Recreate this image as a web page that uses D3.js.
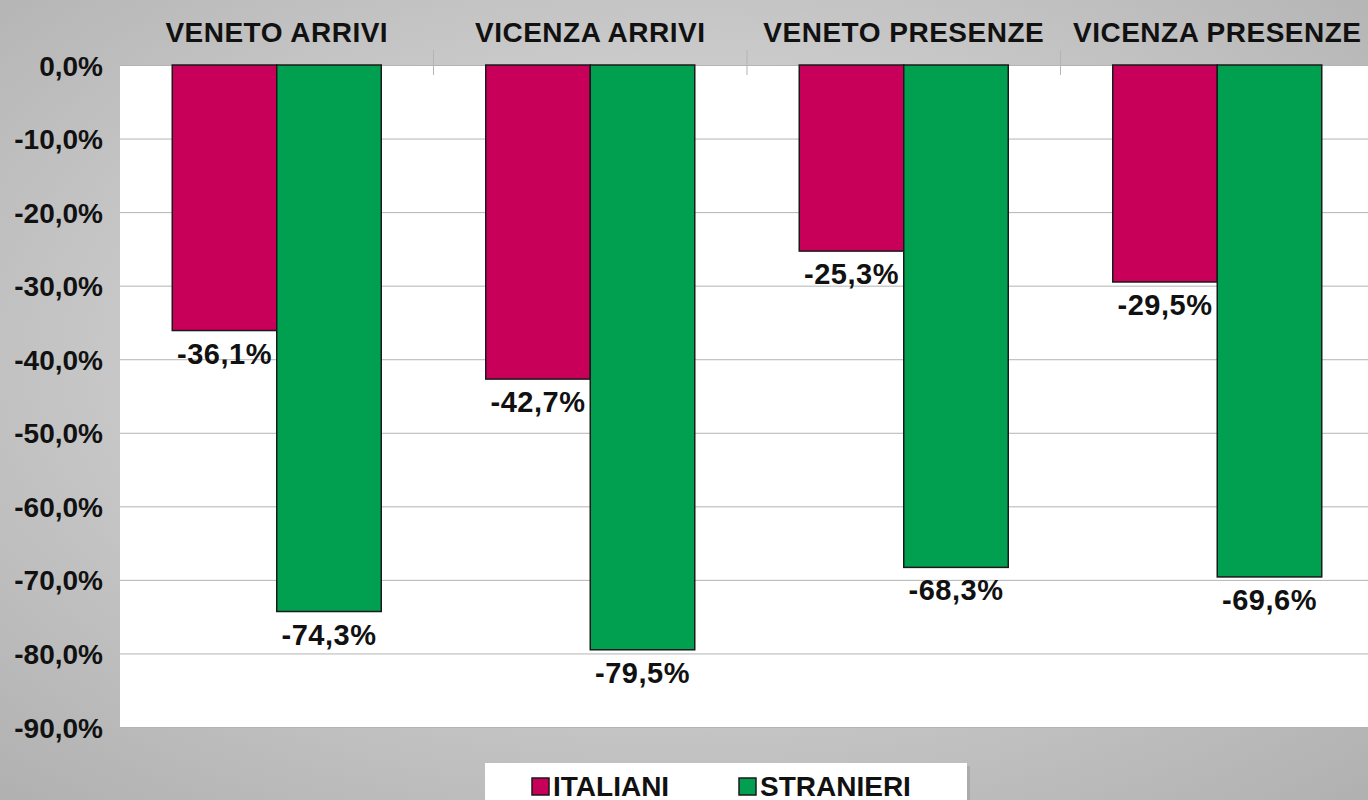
<!DOCTYPE html>
<html lang="it">
<head>
  <meta charset="UTF-8" />
  <title>Variazione arrivi e presenze</title>
  <script src="https://d3js.org/d3.v7.min.js"></script>
  <style>
    html, body { margin: 0; padding: 0; overflow: hidden; }
    body { font-family: "Liberation Sans", Arial, sans-serif; }
    .lbl { font-weight: bold; fill: #111; font-size: 28px; }
    .cat { letter-spacing: 0.5px; }
    .val { font-size: 29px; letter-spacing: 0.5px; }
  </style>
</head>
<body>
  <div id="chart"></div>
  <script>
    // data
    const categories = ["VENETO ARRIVI", "VICENZA ARRIVI", "VENETO PRESENZE", "VICENZA PRESENZE"];
    const series = ["ITALIANI", "STRANIERI"];
    const italiani = [-36.1, -42.7, -25.3, -29.5];
    const stranieri = [-74.3, -79.5, -68.3, -69.6];
    const yTicks = [0, -10, -20, -30, -40, -50, -60, -70, -80, -90];
    const colors = ["#c8005a", "#00a050"];

    const W = 1368, H = 800;
    const plot = { left: 120, top: 65, bottom: 727, band: 313.5 };

    const fmt = v => d3.format(".1f")(v).replace(".", ",").replace("−", "-") + "%";

    const svg = d3.select("#chart").append("svg")
      .attr("width", W).attr("height", H);

    const defs = svg.append("defs");
    const grad = defs.append("radialGradient")
      .attr("id", "bg").attr("cx", "50%").attr("cy", "45%").attr("r", "75%");
    grad.append("stop").attr("offset", "0%").attr("stop-color", "#e4e4e4");
    grad.append("stop").attr("offset", "100%").attr("stop-color", "#b0b0b0");

    svg.append("rect").attr("width", W).attr("height", H).attr("fill", "url(#bg)");

    const x0 = d3.scaleBand()
      .domain(categories)
      .range([plot.left, plot.left + plot.band * categories.length]);
    const x1 = d3.scaleBand()
      .domain(series)
      .range([plot.band / 6, plot.band * 5 / 6]);
    const y = d3.scaleLinear().domain([0, -90]).range([plot.top, plot.bottom]);

    // plot area
    svg.append("rect")
      .attr("x", plot.left).attr("y", plot.top)
      .attr("width", W - plot.left).attr("height", plot.bottom - plot.top)
      .attr("fill", "#fff");

    // y axis with gridlines
    const yAxis = svg.append("g")
      .attr("transform", `translate(${plot.left},0)`)
      .call(d3.axisLeft(y).tickValues(yTicks).tickSize(8).tickFormat(fmt));
    yAxis.select(".domain").remove();
    yAxis.selectAll(".tick line").attr("stroke", "#b4b4b4").attr("x2", W - plot.left);
    yAxis.selectAll(".tick text")
      .attr("class", "lbl").attr("x", -17).attr("dy", "0.36em");

    // category axis on top
    const xAxis = svg.append("g")
      .attr("transform", `translate(0,${plot.top})`)
      .call(d3.axisTop(x0).tickSize(0).tickPadding(23));
    xAxis.select(".domain").remove();
    xAxis.selectAll(".tick text").attr("class", "lbl cat");
    svg.append("g").selectAll("line")
      .data(categories.slice(1))
      .join("line")
      .attr("x1", d => x0(d)).attr("x2", d => x0(d))
      .attr("y1", plot.top - 15).attr("y2", plot.top + 10)
      .attr("stroke", "#b4b4b4");

    const rows = categories.map((c, i) => ({ cat: c, values: [italiani[i], stranieri[i]] }));

    const groups = svg.append("g").selectAll("g")
      .data(rows)
      .join("g")
      .attr("transform", d => `translate(${x0(d.cat)},0)`);

    groups.selectAll("rect")
      .data(d => d.values.map((v, j) => ({ s: series[j], v, j })))
      .join("rect")
      .attr("x", d => x1(d.s))
      .attr("y", y(0))
      .attr("width", x1.bandwidth())
      .attr("height", d => y(d.v) - y(0))
      .attr("fill", d => colors[d.j])
      .attr("stroke", "#1a1a1a")
      .attr("stroke-width", 1.5);

    groups.selectAll("text")
      .data(d => d.values.map((v, j) => ({ s: series[j], v, j })))
      .join("text")
      .attr("class", "lbl val")
      .attr("text-anchor", "middle")
      .attr("x", d => x1(d.s) + x1.bandwidth() / 2)
      .attr("y", d => y(d.v) + 33)
      .text(d => fmt(d.v));

    // legend
    const leg = svg.append("g");
    leg.append("rect")
      .attr("x", 488).attr("y", 766).attr("width", 482).attr("height", 60)
      .attr("fill", "#9a9a9a").attr("opacity", 0.5);
    leg.append("rect")
      .attr("x", 485).attr("y", 763).attr("width", 482).attr("height", 60)
      .attr("fill", "#fff");
    const legX = [532, 739];
    series.forEach((s, i) => {
      leg.append("rect")
        .attr("x", legX[i]).attr("y", 778).attr("width", 17).attr("height", 17)
        .attr("fill", colors[i]).attr("stroke", "#1a1a1a").attr("stroke-width", 1.5);
      leg.append("text")
        .attr("class", "lbl")
        .attr("x", legX[i] + 21).attr("y", 796)
        .text(s);
    });
  </script>
</body>
</html>
